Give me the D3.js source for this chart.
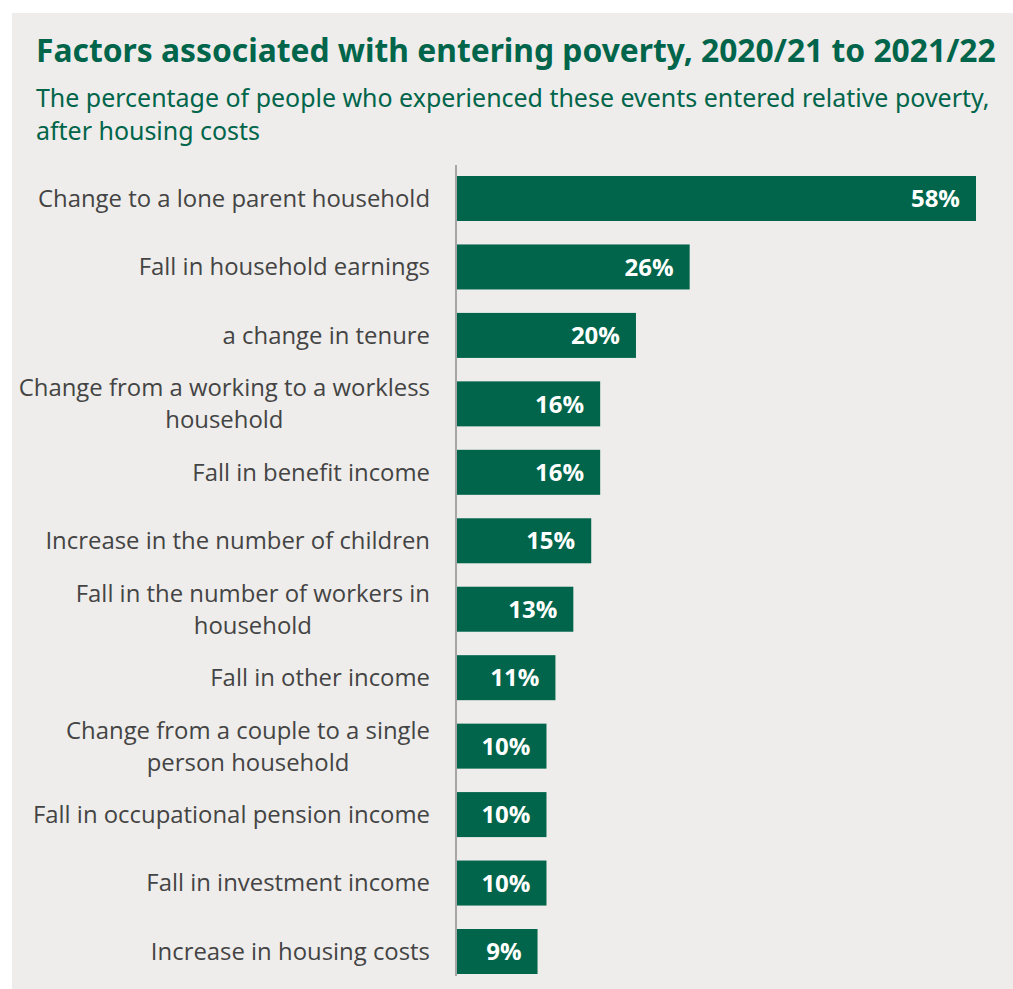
<!DOCTYPE html>
<html>
<head>
<meta charset="utf-8">
<script src="https://cdn.jsdelivr.net/npm/d3@7"></script>
<style>
  html, body { margin: 0; padding: 0; background: #ffffff; }
  svg { display: block; }
</style>
</head>
<body>
<svg id="chart" width="1013" height="989"></svg>
<script>
// Events and the share of people experiencing each who entered poverty (AHC)
const categories = [
  "Change to a lone parent household",
  "Fall in household earnings",
  "a change in tenure",
  "Change from a working to a workless household",
  "Fall in benefit income",
  "Increase in the number of children",
  "Fall in the number of workers in household",
  "Fall in other income",
  "Change from a couple to a single person household",
  "Fall in occupational pension income",
  "Fall in investment income",
  "Increase in housing costs"
];
const values = [58, 26, 20, 16, 16, 15, 13, 11, 10, 10, 10, 9];

const titleText = "Factors associated with entering poverty, 2020/21 to 2021/22";
const subtitleLines = [
  "The percentage of people who experienced these events entered relative poverty,",
  "after housing costs"
];

const W = 1013, H = 989;
const green = "#00654a";
const svg = d3.select("#chart");

// panel background
svg.append("rect")
  .attr("x", 12).attr("y", 13)
  .attr("width", W - 12).attr("height", H - 13)
  .attr("fill", "#eeedeb");

// fit a heading line to a given width by adjusting its font size
function fitText(sel, base, target) {
  sel.attr("font-size", base);
  const w = sel.node().getComputedTextLength();
  sel.attr("font-size", base * target / w);
}

// title and subtitle
const title = svg.append("text")
  .attr("x", 36).attr("y", 62)
  .attr("font-family", "'Noto Sans', sans-serif")
  .attr("font-weight", 700)
  .attr("fill", green)
  .text(titleText);
fitText(title, 28, 960);

const subs = svg.append("g").selectAll("text")
  .data(subtitleLines)
  .join("text")
  .attr("x", 36)
  .attr("y", (d, i) => 107 + i * 33)
  .attr("font-family", "'Noto Sans', sans-serif")
  .attr("fill", green)
  .text(d => d);
fitText(subs.filter((d, i) => i === 0), 22, 954);
subs.filter((d, i) => i === 1).attr("font-size", subs.filter((d, i) => i === 0).attr("font-size"));

// scales
const x = d3.scaleLinear().domain([0, 58]).range([457, 976]);
const y = d3.scaleBand()
  .domain(categories)
  .range([176, 974])
  .paddingInner(0.3426)
  .paddingOuter(0);

// bars
svg.append("g").selectAll("rect")
  .data(categories)
  .join("rect")
  .attr("x", x(0))
  .attr("y", d => y(d))
  .attr("width", (d, i) => x(values[i]) - x(0))
  .attr("height", y.bandwidth())
  .attr("fill", green);

// value labels inside the bar ends
svg.append("g").selectAll("text")
  .data(categories)
  .join("text")
  .attr("x", (d, i) => x(values[i]) - 16)
  .attr("y", d => y(d) + y.bandwidth() / 2)
  .attr("dy", "0.36em")
  .attr("text-anchor", "end")
  .attr("font-family", "'Open Sans', sans-serif")
  .attr("font-weight", 700)
  .attr("font-size", 24)
  .attr("fill", "#ffffff")
  .text((d, i) => values[i] + "%");

// vertical axis line
svg.append("line")
  .attr("x1", 456).attr("x2", 456)
  .attr("y1", 165).attr("y2", 976)
  .attr("stroke", "#a6a6a6")
  .attr("stroke-width", 2);

// category labels, wrapped and centred as a right-aligned block
const labelFont = "'Open Sans', sans-serif";
const labelSize = 23.9;
const labelRight = 430;
const maxWidth = 428;
const lineH = 32;

const measure = svg.append("text")
  .attr("font-family", labelFont)
  .attr("font-size", labelSize)
  .attr("visibility", "hidden");
function textWidth(s) { measure.text(s); return measure.node().getComputedTextLength(); }

function wrap(label) {
  const words = label.split(" ");
  const lines = [];
  let cur = "";
  words.forEach(w => {
    const t = cur ? cur + " " + w : w;
    if (cur && textWidth(t) > maxWidth) { lines.push(cur); cur = w; }
    else cur = t;
  });
  lines.push(cur);
  return lines;
}

const labelG = svg.append("g");
categories.forEach(cat => {
  const lines = wrap(cat);
  const widths = lines.map(textWidth);
  const blockW = d3.max(widths);
  const cy = y(cat) + y.bandwidth() / 2;
  const t = labelG.append("text")
    .attr("font-family", labelFont)
    .attr("font-size", labelSize)
    .attr("fill", "#444444")
    .attr("text-anchor", lines.length > 1 ? "middle" : "end");
  lines.forEach((ln, i) => {
    t.append("tspan")
      .attr("x", lines.length > 1 ? labelRight - blockW / 2 : labelRight)
      .attr("y", cy + (i - (lines.length - 1) / 2) * lineH)
      .attr("dy", "0.35em")
      .text(ln);
  });
});
measure.remove();
</script>
</body>
</html>
